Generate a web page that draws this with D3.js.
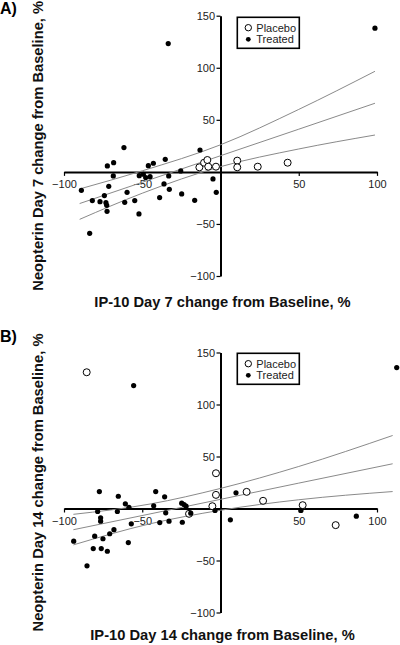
<!DOCTYPE html>
<html><head><meta charset="utf-8">
<script src="https://cdn.jsdelivr.net/npm/d3@7"></script>
<style>
body{margin:0;background:#fff;}
svg{display:block;font-family:"Liberation Sans",Arial,sans-serif;}
</style></head>
<body><svg id="c" width="400" height="645"></svg>
<script>
// ---- data ----
const xTicks = [-100, -50, 50, 100];
const yTicks = [-100, -50, 50, 100, 150];

const treatedA = [[-61.7,23.3],[-13.1,21.0],[-72.3,5.7],[-68.3,8.8],[-46.1,6.0],[-42.9,8.3],[-35.3,12.1],[-68.5,-3.9],[-51.9,-3.6],[-49.3,-2.3],[-47.8,-5.5],[-45.0,-4.6],[-33.1,-3.9],[-25.4,0.9],[-88.9,-17.7],[-71.4,-13.9],[-36.1,-11.6],[-32.7,-16.8],[-4.8,-6.8],[-2.7,-19.6],[-59.7,-19.6],[-81.9,-27.6],[-77.0,-28.6],[-74.2,-22.8],[-73.2,-29.6],[-72.7,-32.1],[-61.2,-29.2],[-54.8,-27.6],[-38.9,-24.7],[-24.8,-21.2],[-16.5,-27.3],[-72.5,-37.9],[-52.1,-40.4],[-83.6,-59.0],[-33.4,123.2],[98.7,138]];
const placeboA = [[-13.5,4.4],[-10.5,8.8],[-8.4,11.4],[-7.8,5.0],[-2.9,5.0],[10.7,10.8],[10.7,4.4],[23.8,5.0],[42.9,8.8]];
const bandXA = [-90, -50, 0, 50, 98.7];
const fitA = [-30.4, -10, 15.5, 41, 65.9];
const upperA = [-16.4, 1, 26, 60, 96.6];
const lowerA = [-45.6, -20.5, 5, 22, 35.4];

const treatedB = [[-77.4,16.3],[-65.3,11.8],[-41.4,16.3],[-35.7,11.2],[-60.8,4.5],[-58.5,1.2],[-42.7,2.6],[-24.8,5.1],[-23.3,3.8],[-22.0,2.2],[-19.0,-4.5],[-78.5,-2.9],[-65.9,-2.9],[-76.6,-9.0],[-76.6,-12.2],[-57.0,-14.7],[-35.0,-4.2],[-38.8,-13.5],[-32.9,-12.2],[-24.4,-13.2],[-3.5,-1.9],[6.3,-10.9],[9.9,15.1],[51.4,-1.9],[86.8,-7.4],[-93.8,-31.4],[-80.4,-26.6],[-75.1,-29.1],[-70.8,-24.3],[-68.1,-20.4],[-81.3,-38.5],[-76.2,-38.5],[-72.3,-41.1],[-58.9,-32.8],[-85.3,-55.1],[-55.5,118.2],[112.6,135.5]];
const placeboB = [[-85.5,131],[-2.9,33.9],[-2.9,13.1],[-5.2,2.2],[-20.1,-5.1],[16.7,16.0],[27.2,7.4],[52.5,3.2],[73.6,-16.0]];
const bandXB = [-94, -45, 0, 50, 110];
const fitB = [-20.4, -5.2, 8.8, 24.4, 43];
const upperB = [-5.6, 4.3, 19.3, 40.4, 70.2];
const lowerB = [-35, -14.7, -1.7, 8.4, 16.3];

const legendLabels = ["Placebo", "Treated"];

// ---- drawing ----
const svg = d3.select("#c");
const x = d3.scaleLinear().domain([-100, 100]).range([64, 377]);

const panels = [
  {tag:"A)", tagY:13.5, yRange:[276, 15.7], ylab:"Neopterin Day 7 change from Baseline, %", xlab:"IP-10 Day 7 change from Baseline, %", xlabY:306.5,
   treated:treatedA, placebo:placeboA, bx:bandXA, fit:fitA, up:upperA, lo:lowerA, legY:17.3},
  {tag:"B)", tagY:341.5, yRange:[612.5, 352.5], ylab:"Neopterin Day 14 change from Baseline, %", xlab:"IP-10 Day 14 change from Baseline, %", xlabY:640,
   treated:treatedB, placebo:placeboB, bx:bandXB, fit:fitB, up:upperB, lo:lowerB, legY:353.3}
];

panels.forEach(p => {
  const y = d3.scaleLinear().domain([-100, 150]).range(p.yRange);
  const g = svg.append("g");

  // panel tag
  g.append("text").attr("x", 0).attr("y", p.tagY).attr("font-size", 16).attr("font-weight", "bold").attr("fill", "#000").text(p.tag);

  // axes
  const xa = g.append("g").attr("transform", `translate(0,${y(0)})`)
    .call(d3.axisBottom(x).tickValues(xTicks).tickSize(4).tickSizeOuter(0).tickPadding(4.5));
  const ya = g.append("g").attr("transform", `translate(${x(0)},0)`)
    .call(d3.axisLeft(y).tickValues(yTicks).tickSize(4).tickSizeOuter(0).tickPadding(1.5).tickFormat(d3.format("d")));
  [xa, ya].forEach(a => {
    a.select(".domain").attr("stroke", "#000").attr("stroke-width", 2);
    a.selectAll(".tick line").attr("stroke", "#000").attr("stroke-width", 1.2);
    a.selectAll(".tick text").attr("font-size", 11).attr("fill", "#222").attr("font-family", "Liberation Sans, Arial, sans-serif");
  });

  // axis titles
  g.append("text").attr("x", 222.5).attr("y", p.xlabY).attr("text-anchor", "middle")
    .attr("font-size", 14.7).attr("font-weight", "bold").attr("fill", "#111").text(p.xlab);
  const yc = (p.yRange[0] + p.yRange[1]) / 2;
  g.append("text").attr("transform", `translate(42.5,${yc}) rotate(-90)`).attr("text-anchor", "middle")
    .attr("font-size", 14.7).attr("font-weight", "bold").attr("fill", "#111").text(p.ylab);

  // regression line and confidence band
  const line = d3.line().x(d => x(d[0])).y(d => y(d[1])).curve(d3.curveMonotoneX);
  [p.up, p.fit, p.lo].forEach(arr => {
    g.append("path").datum(p.bx.map((v, i) => [v, arr[i]])).attr("d", line)
      .attr("fill", "none").attr("stroke", "#8a8a8a").attr("stroke-width", 1);
  });

  // points
  g.selectAll(".pl").data(p.placebo).join("circle").attr("class", "pl")
    .attr("cx", d => x(d[0])).attr("cy", d => y(d[1])).attr("r", 3.5)
    .attr("fill", "#fff").attr("stroke", "#000").attr("stroke-width", 1);
  g.selectAll(".tr").data(p.treated).join("circle").attr("class", "tr")
    .attr("cx", d => x(d[0])).attr("cy", d => y(d[1])).attr("r", 2.6).attr("fill", "#000");

  // legend
  const lg = g.append("g").attr("transform", `translate(237.3,${p.legY})`);
  lg.append("rect").attr("width", 62).attr("height", 31).attr("fill", "#fff").attr("stroke", "#000").attr("stroke-width", 1.6);
  lg.append("circle").attr("cx", 11).attr("cy", 10.4).attr("r", 3.2).attr("fill", "#fff").attr("stroke", "#000").attr("stroke-width", 1);
  lg.append("circle").attr("cx", 11).attr("cy", 22).attr("r", 2.4).attr("fill", "#000");
  legendLabels.forEach((t, i) => {
    lg.append("text").attr("x", 19).attr("y", 10.4 + i * 11.6).attr("dy", "0.35em")
      .attr("font-size", 11).attr("fill", "#222").text(t);
  });
});
</script></body></html>
